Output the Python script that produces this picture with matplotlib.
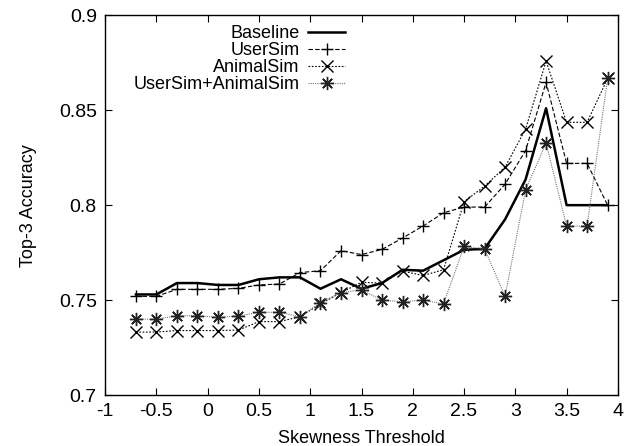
import matplotlib
matplotlib.use('Agg')
import matplotlib.pyplot as plt
import numpy as np

plt.rcParams['font.family'] = ['Liberation Sans', 'DejaVu Sans']

# Skewness thresholds and top-3 accuracy for each method
thresholds = [-0.7, -0.5, -0.3, -0.1, 0.1, 0.3, 0.5, 0.7, 0.9, 1.1, 1.3, 1.5,
              1.7, 1.9, 2.1, 2.3, 2.5, 2.7, 2.9, 3.1, 3.3, 3.5, 3.7, 3.9]
baseline = [0.753, 0.753, 0.759, 0.759, 0.758, 0.758, 0.761, 0.762, 0.762, 0.756, 0.761, 0.756,
            0.759, 0.766, 0.7655, 0.771, 0.7765, 0.777, 0.7925, 0.8135, 0.851, 0.800, 0.800, 0.800]
usersim = [0.752, 0.752, 0.7557, 0.7557, 0.7557, 0.7562, 0.758, 0.7585, 0.7645, 0.7655, 0.776, 0.774,
           0.7767, 0.7827, 0.789, 0.796, 0.799, 0.799, 0.811, 0.8287, 0.8647, 0.822, 0.822, 0.800]
animalsim = [0.7332, 0.7332, 0.734, 0.734, 0.734, 0.7343, 0.7387, 0.7387, 0.7413, 0.748, 0.754, 0.7594,
             0.759, 0.7653, 0.763, 0.766, 0.8018, 0.810, 0.820, 0.840, 0.8758, 0.8436, 0.8436, 0.8667]
combined = [0.740, 0.740, 0.7418, 0.7418, 0.741, 0.7417, 0.7436, 0.7436, 0.7413, 0.7487, 0.754, 0.7554,
            0.750, 0.7492, 0.750, 0.748, 0.7783, 0.777, 0.752, 0.808, 0.8326, 0.789, 0.789, 0.8667]

fig = plt.figure(figsize=(6.26, 4.46), dpi=100)
ax = fig.add_axes([0.168, 0.114, 0.819, 0.852])

ax.plot(thresholds, baseline, color='black', linewidth=1.8, label='Baseline')
ax.plot(thresholds, usersim, color='black', linewidth=0.8, dashes=(4, 2),
        marker='+', markersize=9, markeredgewidth=1.0, label='UserSim')
ax.plot(thresholds, animalsim, color='black', linewidth=0.8, dashes=(1.5, 1.5),
        marker='x', markersize=8, markeredgewidth=1.0, label='AnimalSim')
ax.plot(thresholds, combined, color='#777777', linewidth=0.8, dashes=(1, 1),
        marker=(8, 2, 0), markersize=9.5, markeredgewidth=1.0, markeredgecolor='#222222',
        label='UserSim+AnimalSim')

ax.set_xlim(-1, 4)
ax.set_ylim(0.7, 0.9)
ax.set_xticks([-1, -0.5, 0, 0.5, 1, 1.5, 2, 2.5, 3, 3.5, 4])
ax.set_xticklabels(['-1', '-0.5', '0', '0.5', '1', '1.5', '2', '2.5', '3', '3.5', '4'])
ax.set_yticks([0.7, 0.75, 0.8, 0.85, 0.9])
ax.set_yticklabels(['0.7', '0.75', '0.8', '0.85', '0.9'])
ax.tick_params(direction='in', top=True, right=True, length=5, labelsize=14, pad=6)
for spine in ax.spines.values():
    spine.set_linewidth(1.0)

ax.set_xlabel('Skewness Threshold', fontsize=13, labelpad=6.5)
ax.set_ylabel('Top-3 Accuracy', fontsize=13, labelpad=16)

ax.legend(loc='upper right', bbox_to_anchor=(0.467, 0.974), frameon=False, markerfirst=False,
          fontsize=13, borderaxespad=0, borderpad=0, labelspacing=0.0,
          handlelength=2.0, handletextpad=0.5)

plt.savefig('out.png', dpi=100)
